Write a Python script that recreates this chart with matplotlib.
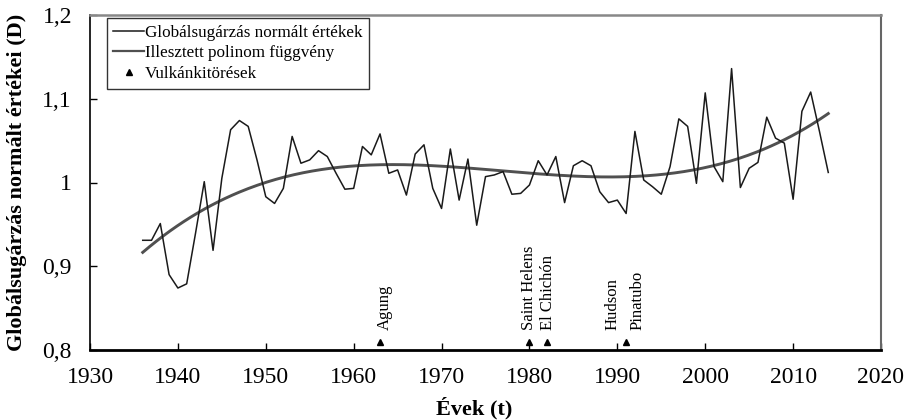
import numpy as np
import matplotlib
matplotlib.use("Agg")
import matplotlib.pyplot as plt
from matplotlib.lines import Line2D
from matplotlib.ticker import FuncFormatter

years = list(range(1936, 2015))
values = [0.931, 0.931, 0.951, 0.890, 0.874, 0.879, 0.939, 1.001, 0.919, 1.005,
          1.063, 1.074, 1.067, 1.027, 0.983, 0.975, 0.993, 1.055, 1.023, 1.027,
          1.038, 1.031, 1.011, 0.992, 0.993, 1.043, 1.033, 1.058, 1.011, 1.015,
          0.985, 1.034, 1.045, 0.993, 0.969, 1.040, 0.979, 1.028, 0.949, 1.007,
          1.009, 1.013, 0.986, 0.987, 0.997, 1.026, 1.009, 1.031, 0.976, 1.020,
          1.026, 1.020, 0.989, 0.976, 0.979, 0.963, 1.061, 1.003, 0.995, 0.986,
          1.019, 1.076, 1.067, 0.999, 1.107, 1.019, 1.001, 1.136, 0.994, 1.017,
          1.024, 1.078, 1.053, 1.047, 0.980, 1.085, 1.108, 1.061, 1.012]

volcano_years = [1963, 1980, 1982, 1991]
volcano_marker_y = 0.81
volcano_names = ["Agung", "Saint Helens", "El Chichón", "Hudson", "Pinatubo"]
volcano_label_x = [1963.5, 1980.0, 1982.1, 1989.5, 1992.3]
volcano_label_y = 0.824

xticks = list(range(1930, 2021, 10))
yticks = [0.8, 0.9, 1.0, 1.1, 1.2]

plt.rcParams['font.family'] = ['Liberation Serif', 'DejaVu Serif']

fig = plt.figure(figsize=(9.08, 4.20), dpi=100)
ax = fig.add_axes([90/908, 70/420, (881-90)/908, (350-15)/420])

x = np.array(years, dtype=float)
y = np.array(values)
coef = np.polyfit(x - 1975, y, 3)
xf = np.linspace(1936, 2014, 300)
yf = np.polyval(coef, xf - 1975)

ax.plot(x, y, color='#1a1a1a', lw=1.1, zorder=3)
ax.plot(xf, yf, color='#505050', lw=2.1, zorder=2)
ax.plot(volcano_years, [volcano_marker_y]*len(volcano_years), linestyle='none',
        marker='^', color='black', markersize=4.5, zorder=4)

for name, lx in zip(volcano_names, volcano_label_x):
    ax.text(lx, volcano_label_y, name, rotation=90, ha='center', va='bottom',
            fontsize=12)

ax.set_xlim(1930, 2020)
ax.set_ylim(0.8, 1.2)
ax.set_xticks(xticks)
ax.set_yticks(yticks)
ax.yaxis.set_major_formatter(FuncFormatter(lambda v, p: ('%g' % round(v, 2)).replace('.', ',')))
ax.tick_params(direction='in', length=5, width=1, labelsize=17, pad=12)
ax.tick_params(axis='y', pad=13)

ax.spines['left'].set_color('black')
ax.spines['left'].set_linewidth(1.2)
ax.spines['bottom'].set_color('black')
ax.spines['bottom'].set_linewidth(2)
ax.spines['top'].set_color('#888888')
ax.spines['top'].set_linewidth(1.8)
ax.spines['right'].set_color('#666666')
ax.spines['right'].set_linewidth(1.5)

ax.set_xlabel('Évek (t)', fontsize=16, fontweight='bold')
ax.xaxis.set_label_coords(0.486, -0.14)
ax.set_ylabel('Globálsugárzás normált értékei (D)', fontsize=16, fontweight='bold')
ax.yaxis.set_label_coords(-0.08, 0.5)

handles = [Line2D([], [], color='#1a1a1a', lw=1.1),
           Line2D([], [], color='#505050', lw=1.6),
           Line2D([], [], color='black', marker='^', linestyle='none', markersize=4.5)]
labels = ['Globálsugárzás normált értékek', 'Illesztett polinom függvény', 'Vulkánkitörések']
leg = ax.legend(handles, labels, loc='upper left', bbox_to_anchor=(0.021, 0.99),
                fontsize=12.3, frameon=True, fancybox=False, edgecolor='black',
                handlelength=1.8, handletextpad=0.05, borderpad=0.4, labelspacing=0.25,
                borderaxespad=0)
leg.get_frame().set_linewidth(1.0)

fig.savefig('out.png', dpi=100)
